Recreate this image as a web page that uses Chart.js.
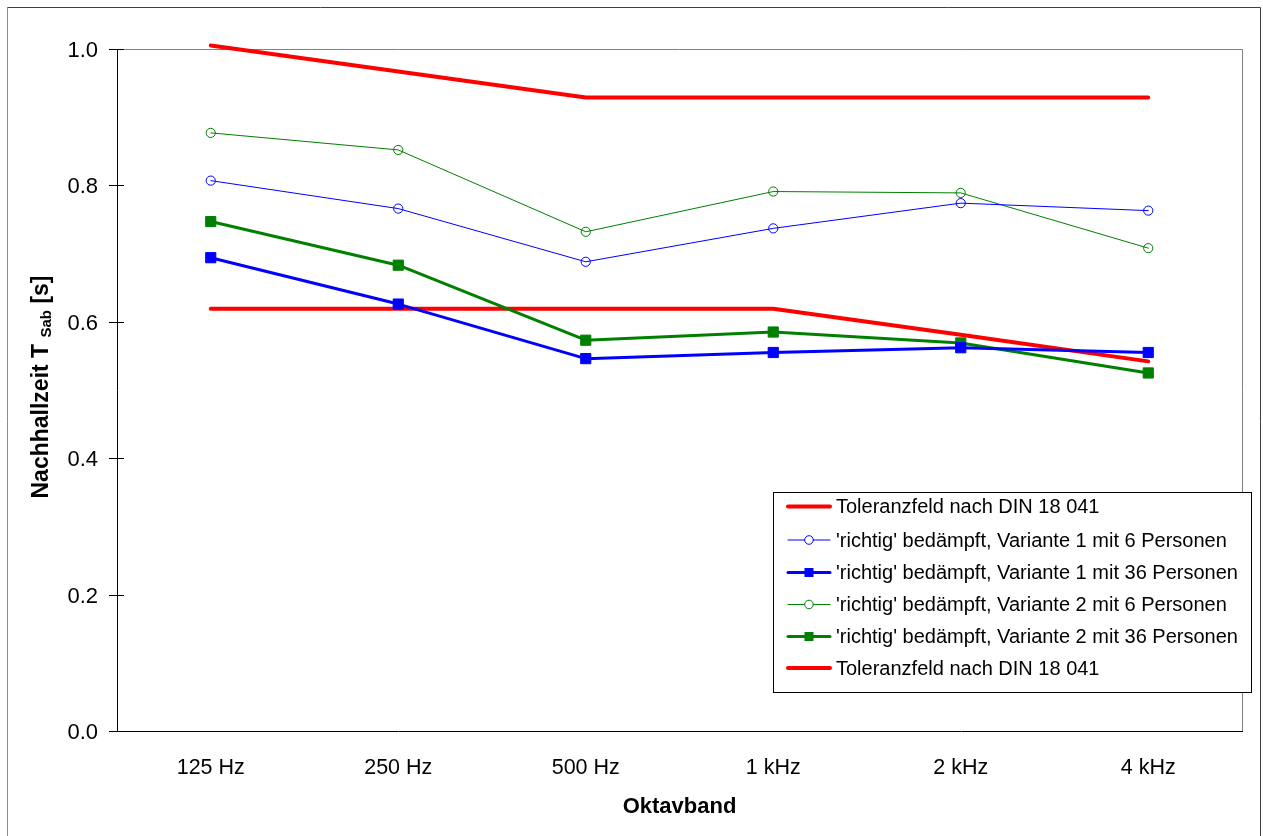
<!DOCTYPE html>
<html>
<head>
<meta charset="utf-8">
<script src="https://cdn.jsdelivr.net/npm/chart.js@4"></script>
<style>
  html, body { margin: 0; padding: 0; background: #fff; }
  #wrap { width: 1263px; height: 836px; }
</style>
</head>
<body>
<div id="wrap"><canvas id="c" width="1263" height="836"></canvas></div>
<script>
const categories = ['125 Hz', '250 Hz', '500 Hz', '1 kHz', '2 kHz', '4 kHz'];
const yTicks = [0.0, 0.2, 0.4, 0.6, 0.8, 1.0];
const tolUpper = [1.005, 0.967, 0.929, 0.929, 0.929, 0.929];
const v1p6 = [0.807, 0.766, 0.688, 0.737, 0.774, 0.763];
const v1p36 = [0.694, 0.626, 0.546, 0.555, 0.562, 0.555];
const v2p6 = [0.877, 0.852, 0.732, 0.791, 0.789, 0.708];
const v2p36 = [0.747, 0.683, 0.573, 0.585, 0.569, 0.525];
const tolLower = [0.619, 0.619, 0.619, 0.619, 0.581, 0.542];
const seriesLabels = [
  'Toleranzfeld nach DIN 18 041',
  "'richtig' bedämpft, Variante 1 mit 6 Personen",
  "'richtig' bedämpft, Variante 1 mit 36 Personen",
  "'richtig' bedämpft, Variante 2 mit 6 Personen",
  "'richtig' bedämpft, Variante 2 mit 36 Personen",
  'Toleranzfeld nach DIN 18 041'
];

const FONT = "'Liberation Sans', Arial, sans-serif";

function ds(label, data, color, width, style, radius, filled) {
  return {
    label, data,
    borderColor: color,
    backgroundColor: filled ? color : '#ffffff',
    borderWidth: width,
    pointStyle: style,
    pointRadius: radius,
    pointBorderWidth: 1,
    pointBorderColor: color,
    pointBackgroundColor: filled ? color : 'rgba(0,0,0,0)',
    borderCapStyle: 'round',
    borderJoinStyle: 'round',
    tension: 0,
    fill: false,
    clip: 12
  };
}

const datasets = [
  ds(seriesLabels[0], tolUpper, '#ff0000', 4, false, 0, true),
  ds(seriesLabels[1], v1p6, '#0000ff', 1, 'circle', 4.6, false),
  ds(seriesLabels[2], v1p36, '#0000ff', 3, 'rect', 7.2, true),
  ds(seriesLabels[3], v2p6, '#008000', 1, 'circle', 4.6, false),
  ds(seriesLabels[4], v2p36, '#008000', 3, 'rect', 7.2, true),
  ds(seriesLabels[5], tolLower, '#ff0000', 4, false, 0, true)
];

const decor = {
  id: 'decor',
  beforeDraw(chart) {
    const ctx = chart.ctx;
    ctx.save();
    ctx.fillStyle = '#ffffff';
    ctx.fillRect(0, 0, chart.width, chart.height);
    ctx.restore();
  },
  beforeDatasetsDraw(chart) {
    const ctx = chart.ctx;
    const a = chart.chartArea;
    ctx.save();
    ctx.strokeStyle = '#808080';
    ctx.lineWidth = 1;
    ctx.beginPath();
    ctx.moveTo(a.left, Math.round(a.top) + 0.5);
    ctx.lineTo(Math.round(a.right) + 0.5, Math.round(a.top) + 0.5);
    ctx.lineTo(Math.round(a.right) + 0.5, a.bottom);
    ctx.stroke();
    ctx.restore();
  },
  afterDatasetsDraw(chart) {
    const ctx = chart.ctx;
    const a = chart.chartArea;
    const ys = chart.scales.y;
    ctx.save();
    ctx.strokeStyle = '#000000';
    ctx.lineWidth = 1;
    yTicks.forEach(v => {
      const py = Math.round(ys.getPixelForValue(v)) + 0.5;
      ctx.beginPath();
      ctx.moveTo(a.left - 8, py);
      ctx.lineTo(a.left + 7, py);
      ctx.stroke();
    });

    const lx = 773.5, ly = 492.5, lw = 478, lh = 200;
    ctx.fillStyle = '#ffffff';
    ctx.fillRect(lx, ly, lw, lh);
    ctx.strokeStyle = '#000000';
    ctx.lineWidth = 1;
    ctx.strokeRect(lx, ly, lw, lh);
    const rowY = [506.5, 540, 572.5, 604.5, 636.5, 668];
    ctx.font = '20px ' + FONT;
    ctx.textBaseline = 'middle';
    ctx.textAlign = 'left';
    chart.data.datasets.forEach((d, i) => {
      const y = rowY[i];
      ctx.strokeStyle = d.borderColor;
      ctx.lineWidth = d.borderWidth;
      ctx.lineCap = 'round';
      ctx.beginPath();
      ctx.moveTo(788, y);
      ctx.lineTo(830, y);
      ctx.stroke();
      if (d.pointStyle === 'circle') {
        ctx.lineWidth = 1;
        ctx.fillStyle = '#ffffff';
        ctx.beginPath();
        ctx.arc(809, y, 4.3, 0, Math.PI * 2);
        ctx.fill();
        ctx.stroke();
      } else if (d.pointStyle === 'rect') {
        ctx.fillStyle = d.borderColor;
        ctx.fillRect(804.5, y - 4.5, 9, 9);
      }
      ctx.fillStyle = '#000000';
      ctx.fillText(d.label, 836, y + 1);
    });
    ctx.restore();
  },
  afterDraw(chart) {
    const ctx = chart.ctx;
    const a = chart.chartArea;
    ctx.save();
    ctx.lineWidth = 1;
    ctx.strokeStyle = '#8a8a8a';
    ctx.beginPath();
    ctx.moveTo(7.5, 7.5); ctx.lineTo(7.5, 836);
    ctx.stroke();
    ctx.strokeStyle = '#404040';
    ctx.beginPath();
    ctx.moveTo(7.5, 7.5); ctx.lineTo(1260.5, 7.5); ctx.lineTo(1260.5, 836);
    ctx.stroke();

    ctx.fillStyle = '#000000';
    ctx.font = 'bold 22px ' + FONT;
    ctx.textAlign = 'center';
    ctx.textBaseline = 'middle';
    ctx.fillText('Oktavband', (a.left + a.right) / 2, 807);

    const big = 'bold 23px ' + FONT;
    const small = 'bold 15px ' + FONT;
    const parts = [
      { t: 'Nachhallzeit T ', f: big, dy: 0 },
      { t: 'Sab', f: small, dy: 3 },
      { t: ' [s]', f: big, dy: 0 }
    ];
    let total = 0;
    parts.forEach(p => { ctx.font = p.f; p.w = ctx.measureText(p.t).width; total += p.w; });
    ctx.translate(48, (a.top + a.bottom) / 2 - 3);
    ctx.rotate(-Math.PI / 2);
    ctx.textAlign = 'left';
    ctx.textBaseline = 'alphabetic';
    let x = -total / 2;
    parts.forEach(p => { ctx.font = p.f; ctx.fillText(p.t, x, p.dy); x += p.w; });
    ctx.restore();
  }
};

new Chart(document.getElementById('c'), {
  type: 'line',
  data: { labels: categories, datasets },
  options: {
    responsive: false,
    animation: false,
    devicePixelRatio: 1,
    layout: { padding: { left: 0, top: 49, right: 21, bottom: 0 } },
    plugins: {
      legend: { display: false },
      title: { display: false },
      tooltip: { enabled: false }
    },
    scales: {
      x: {
        type: 'category',
        offset: true,
        grid: { display: false, drawTicks: false },
        border: { display: true, color: '#000000', width: 1 },
        ticks: { color: '#000000', font: { family: FONT, size: 21.5 }, padding: 24, maxRotation: 0, autoSkip: false },
        afterFit: s => { s.height = 105; }
      },
      y: {
        min: 0, max: 1,
        grid: { display: false, drawTicks: false },
        border: { display: true, color: '#000000', width: 1 },
        ticks: {
          stepSize: 0.2,
          color: '#000000',
          font: { family: FONT, size: 22 },
          padding: 19,
          labelOffset: 2,
          callback: v => Number(v).toFixed(1)
        },
        afterFit: s => { s.width = 117; }
      }
    }
  },
  plugins: [decor]
});
</script>
</body>
</html>
